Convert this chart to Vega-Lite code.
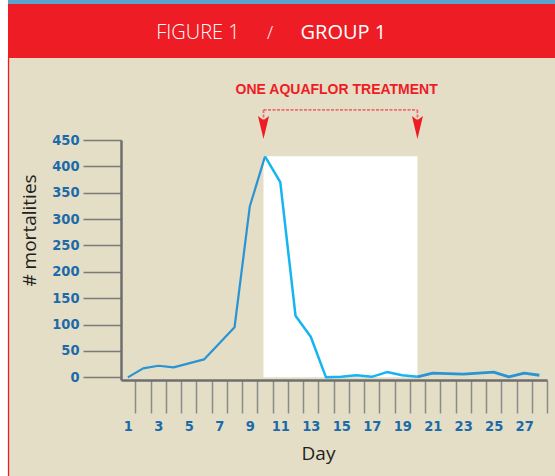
{
  "$schema": "https://vega.github.io/schema/vega-lite/v6.json",
  "width": 426,
  "height": 240,
  "autosize": "none",
  "padding": {"left": 121, "top": 140, "right": 8, "bottom": 96},
  "datasets": {
    "treatment": [{"start": 9.9, "end": 20, "peak": 419, "label": "ONE AQUAFLOR TREATMENT"}],
    "mortality": [
      {"day": 1, "mortalities": 0, "phase": "before"},
      {"day": 2, "mortalities": 17, "phase": "before"},
      {"day": 3, "mortalities": 22, "phase": "before"},
      {"day": 4, "mortalities": 19, "phase": "before"},
      {"day": 6, "mortalities": 34, "phase": "before"},
      {"day": 8, "mortalities": 95, "phase": "before"},
      {"day": 9, "mortalities": 324, "phase": "before"},
      {"day": 10, "mortalities": 419, "phase": "before"},
      {"day": 10, "mortalities": 419, "phase": "during"},
      {"day": 11, "mortalities": 370, "phase": "during"},
      {"day": 12, "mortalities": 117, "phase": "during"},
      {"day": 13, "mortalities": 77, "phase": "during"},
      {"day": 14, "mortalities": 0, "phase": "during"},
      {"day": 15, "mortalities": 1, "phase": "during"},
      {"day": 16, "mortalities": 4, "phase": "during"},
      {"day": 17, "mortalities": 1, "phase": "during"},
      {"day": 18, "mortalities": 10, "phase": "during"},
      {"day": 19, "mortalities": 4, "phase": "during"},
      {"day": 20, "mortalities": 1, "phase": "during"},
      {"day": 20, "mortalities": 1, "phase": "after"},
      {"day": 21, "mortalities": 8, "phase": "after"},
      {"day": 23, "mortalities": 6, "phase": "after"},
      {"day": 25, "mortalities": 10, "phase": "after"},
      {"day": 26, "mortalities": 1, "phase": "after"},
      {"day": 27, "mortalities": 8, "phase": "after"},
      {"day": 28, "mortalities": 4, "phase": "after"}
    ]
  },
  "data": {"name": "treatment"},
  "layer": [
    {
      "mark": {"type": "rect", "fill": "#ffffff"},
      "encoding": {
        "x": {"datum": -8, "type": "quantitative"}, "x2": {"datum": -6.865},
        "y": {"datum": -200, "type": "quantitative"}, "y2": {"datum": 720}
      }
    },
    {
      "mark": {"type": "rect", "fill": "#ee1c25"},
      "encoding": {
        "x": {"datum": -6.865, "type": "quantitative"}, "x2": {"datum": 29.2},
        "y": {"datum": 605.5, "type": "quantitative"}, "y2": {"datum": 707.8}
      }
    },
    {
      "mark": {"type": "rect", "fill": "#5ba4cf"},
      "encoding": {
        "x": {"datum": -6.865, "type": "quantitative"}, "x2": {"datum": 29.2},
        "y": {"datum": 707.8, "type": "quantitative"}, "y2": {"datum": 720}
      }
    },
    {
      "mark": {"type": "rule", "stroke": "#ee1c25", "strokeWidth": 1.3},
      "encoding": {
        "x": {"datum": -6.83, "type": "quantitative"},
        "y": {"datum": -200, "type": "quantitative"}, "y2": {"datum": 605.5}
      }
    },
    {
      "mark": {"type": "text", "font": "Open Sans", "fontSize": 20, "fontWeight": 300, "color": "#ffffff", "align": "center", "baseline": "alphabetic"},
      "encoding": {"x": {"datum": 5.6, "type": "quantitative"}, "y": {"datum": 641.5, "type": "quantitative"}, "text": {"value": "FIGURE 1"}}
    },
    {
      "mark": {"type": "text", "font": "Open Sans", "fontSize": 18, "fontWeight": 300, "color": "#ffffff", "align": "center", "baseline": "alphabetic"},
      "encoding": {"x": {"datum": 10.33, "type": "quantitative"}, "y": {"datum": 641.5, "type": "quantitative"}, "text": {"value": "/"}}
    },
    {
      "mark": {"type": "text", "font": "Open Sans", "fontSize": 20, "fontWeight": 500, "color": "#ffffff", "align": "center", "baseline": "alphabetic"},
      "encoding": {"x": {"datum": 15.14, "type": "quantitative"}, "y": {"datum": 641.5, "type": "quantitative"}, "text": {"value": "GROUP 1"}}
    },
    {
      "mark": {"type": "rect", "fill": "#ffffff"},
      "encoding": {
        "x": {"field": "start", "type": "quantitative"},
        "x2": {"field": "end"},
        "y": {"field": "peak", "type": "quantitative"},
        "y2": {"datum": 0}
      }
    },
    {
      "mark": {"type": "rule", "stroke": "#ef6b70", "strokeWidth": 1.8, "strokeDash": [3, 1.5]},
      "encoding": {
        "x": {"field": "start", "type": "quantitative"},
        "x2": {"field": "end"},
        "y": {"datum": 507, "type": "quantitative"}
      }
    },
    {
      "mark": {"type": "rule", "stroke": "#ef6b70", "strokeWidth": 1.8, "strokeDash": [3, 1.5]},
      "encoding": {
        "x": {"field": "start", "type": "quantitative"},
        "y": {"datum": 507, "type": "quantitative"}, "y2": {"datum": 488}
      }
    },
    {
      "mark": {"type": "rule", "stroke": "#ef6b70", "strokeWidth": 1.8, "strokeDash": [3, 1.5]},
      "encoding": {
        "x": {"field": "end", "type": "quantitative"},
        "y": {"datum": 507, "type": "quantitative"}, "y2": {"datum": 488}
      }
    },
    {
      "mark": {"type": "point", "shape": "M-0.48,-1L0,-0.62L0.48,-1L0,1Z", "size": 529, "filled": true, "color": "#ee1c25", "opacity": 1},
      "encoding": {"x": {"field": "start", "type": "quantitative"}, "y": {"datum": 473.7, "type": "quantitative"}}
    },
    {
      "mark": {"type": "point", "shape": "M-0.48,-1L0,-0.62L0.48,-1L0,1Z", "size": 529, "filled": true, "color": "#ee1c25", "opacity": 1},
      "encoding": {"x": {"field": "end", "type": "quantitative"}, "y": {"datum": 473.7, "type": "quantitative"}}
    },
    {
      "mark": {"type": "text", "font": "Liberation Sans", "fontSize": 14, "fontWeight": "bold", "color": "#ee1c25", "align": "center", "baseline": "alphabetic"},
      "encoding": {"x": {"datum": 14.7, "type": "quantitative"}, "y": {"datum": 537.2, "type": "quantitative"}, "text": {"field": "label", "type": "nominal"}}
    },
    {
      "data": {"name": "mortality"},
      "mark": {"type": "line", "strokeJoin": "round"},
      "encoding": {
        "x": {
          "field": "day", "type": "quantitative",
          "scale": {"domain": [0.55, 28.5], "nice": false, "zero": false},
          "axis": {
            "title": "Day",
            "values": [1.5, 2.5, 3.5, 4.5, 5.5, 6.5, 7.5, 8.5, 9.5, 10.5, 11.5, 12.5, 13.5, 14.5, 15.5, 16.5, 17.5, 18.5, 19.5, 20.5, 21.5, 22.5, 23.5, 24.5, 25.5, 26.5, 27.5, 28.5],
            "tickCount": 100,
            "labelExpr": "(datum.value + 0.5) % 2 == 0 ? format(datum.value - 0.5, 'd') : ''",
            "labelOffset": -7.6,
            "labelPadding": 6,
            "labelFontSize": 14.5,
            "tickSize": 33,
            "tickWidth": 1.5,
            "tickColor": "#8a8a8a",
            "titleX": 197,
            "titleY": 79,
            "titleBaseline": "alphabetic",
            "titleFontSize": 19
          }
        },
        "y": {
          "field": "mortalities", "type": "quantitative",
          "scale": {"domain": [-5, 450], "nice": false, "zero": false},
          "axis": {
            "title": "# mortalities",
            "values": [0, 50, 100, 150, 200, 250, 300, 350, 400, 450],
            "tickCount": 100,
            "tickSize": 38,
            "tickWidth": 1.4,
            "tickColor": "#7a7a7a",
            "labelPadding": 4,
            "labelFontSize": 14.5,
            "titleX": -86,
            "titleY": 90,
            "titleAngle": 270,
            "titleAlign": "center",
            "titleBaseline": "alphabetic",
            "titleFontSize": 19
          }
        },
        "color": {
          "field": "phase", "type": "nominal",
          "scale": {"domain": ["before", "during", "after"], "range": ["#2a93d3", "#17b5f0", "#2a93d3"]},
          "legend": null
        },
        "strokeWidth": {
          "field": "phase", "type": "nominal",
          "scale": {"domain": ["before", "during", "after"], "range": [2.2, 2.8, 2]},
          "legend": null
        }
      }
    }
  ],
  "config": {
    "background": "#e4dec6",
    "view": {"stroke": null},
    "axis": {
      "grid": false,
      "domainColor": "#6e6e6e",
      "domainWidth": 2.5,
      "labelColor": "#1d6aa8",
      "labelFont": "'DejaVu Sans Condensed', 'Roboto Condensed', 'Liberation Sans Narrow', sans-serif",
      "labelFontWeight": "bold",
      "labelOverlap": false,
      "labelFlush": false,
      "labelBound": false,
      "titleFont": "Open Sans",
      "titleFontWeight": "normal",
      "titleColor": "#231f20"
    }
  }
}
